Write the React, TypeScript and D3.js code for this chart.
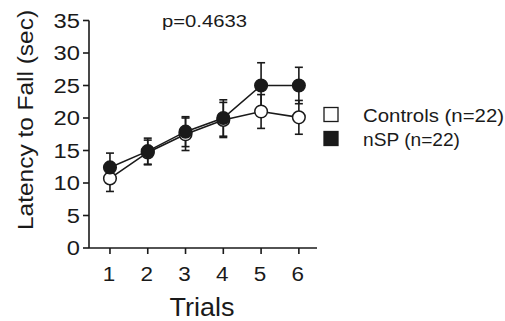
import React from "react";
import * as d3 from "d3";

const trials = [1, 2, 3, 4, 5, 6];
const controlsMean = [10.7, 14.7, 17.5, 19.7, 21.0, 20.1];
const controlsErr = [2.0, 1.9, 2.5, 2.7, 2.6, 2.6];
const nspMean = [12.4, 14.9, 17.9, 20.0, 25.0, 25.0];
const nspErr = [2.2, 2.0, 2.3, 2.8, 3.5, 2.8];
const yTicks = [0, 5, 10, 15, 20, 25, 30, 35];
const legendLabels = ["Controls (n=22)", "nSP (n=22)"];
const pLabel = "p=0.4633";

const W = 505;
const H = 321;
const ink = "#1a1a1a";
const font = "'Liberation Sans', Arial, Helvetica, sans-serif";

export default function App() {
  const x = d3.scaleLinear().domain([0.445, 6.48]).range([89, 317]);
  const y = d3.scaleLinear().domain([0, 35]).range([248, 20.5]);
  const line = d3
    .line<number>()
    .x((_, i) => x(trials[i]))
    .y((d) => y(d));

  const series = [
    { mean: controlsMean, err: controlsErr, fill: "#fff" },
    { mean: nspMean, err: nspErr, fill: ink },
  ];

  const errBars = (mean: number[], err: number[], key: string) =>
    mean.map((m, i) => {
      const cx = x(trials[i]);
      const y1 = y(m + err[i]);
      const y2 = y(m - err[i]);
      return (
        <g key={key + i} stroke={ink} strokeWidth={1.6}>
          <line x1={cx} x2={cx} y1={y1} y2={y2} />
          <line x1={cx - 4} x2={cx + 4} y1={y1} y2={y1} />
          <line x1={cx - 4} x2={cx + 4} y1={y2} y2={y2} />
        </g>
      );
    });

  return (
    <svg
      width={W}
      height={H}
      style={{ position: "absolute", left: 0, top: 0, background: "#fff" }}
      fontFamily={font}
    >
      {/* axes */}
      <line x1={89} x2={89} y1={y(35)} y2={y(0)} stroke={ink} strokeWidth={1.6} />
      <line x1={89} x2={317} y1={y(0)} y2={y(0)} stroke={ink} strokeWidth={1.6} />
      {yTicks.map((t) => (
        <g key={"yt" + t}>
          <line x1={83} x2={89} y1={y(t)} y2={y(t)} stroke={ink} strokeWidth={1.6} />
          <text
            x={80}
            y={y(t) + 7}
            textAnchor="end"
            fontSize={19.5}
            fill={ink}
            textLength={String(t).length * 13.2}
            lengthAdjust="spacingAndGlyphs"
          >
            {t}
          </text>
        </g>
      ))}
      {trials.map((t) => (
        <g key={"xt" + t}>
          <line x1={x(t)} x2={x(t)} y1={y(0)} y2={y(0) + 6} stroke={ink} strokeWidth={1.6} />
          <text
            x={x(t) - 1}
            y={281}
            textAnchor="middle"
            fontSize={19.5}
            fill={ink}
            textLength={12.5}
            lengthAdjust="spacingAndGlyphs"
          >
            {t}
          </text>
        </g>
      ))}
      <text
        x={202}
        y={316}
        textAnchor="middle"
        fontSize={25}
        fill={ink}
        textLength={65}
        lengthAdjust="spacingAndGlyphs"
      >
        Trials
      </text>
      <text
        transform={`translate(33,120) rotate(-90)`}
        textAnchor="middle"
        fontSize={22}
        fill={ink}
        textLength={220}
        lengthAdjust="spacingAndGlyphs"
      >
        Latency to Fall (sec)
      </text>
      <text
        x={162}
        y={27}
        fontSize={17}
        fill={ink}
        textLength={85}
        lengthAdjust="spacingAndGlyphs"
      >
        {pLabel}
      </text>

      {/* error bars */}
      {errBars(controlsMean, controlsErr, "ce")}
      {errBars(nspMean, nspErr, "ne")}
      {/* lines */}
      {series.map((s, k) => (
        <path key={"l" + k} d={line(s.mean) || ""} fill="none" stroke={ink} strokeWidth={1.6} />
      ))}
      {/* markers */}
      {series.map((s, k) =>
        s.mean.map((m, i) => (
          <circle
            key={"m" + k + i}
            cx={x(trials[i])}
            cy={y(m)}
            r={6.3}
            fill={s.fill}
            stroke={ink}
            strokeWidth={1.5}
          />
        ))
      )}

      {/* legend */}
      {legendLabels.map((lab, i) => (
        <g key={"lg" + i}>
          <rect
            x={324}
            y={107.5 + i * 24}
            width={14}
            height={14}
            fill={i === 0 ? "#fff" : ink}
            stroke={ink}
            strokeWidth={1.3}
          />
          <text
            x={363}
            y={121.5 + i * 24}
            fontSize={18}
            fill={ink}
            textLength={i === 0 ? 141 : 97}
            lengthAdjust="spacingAndGlyphs"
          >
            {lab}
          </text>
        </g>
      ))}
    </svg>
  );
}
